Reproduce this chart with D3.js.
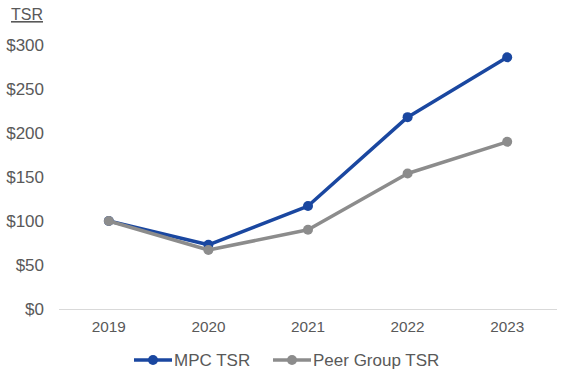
<!DOCTYPE html>
<html><head><meta charset="utf-8">
<script src="https://cdn.jsdelivr.net/npm/d3@7"></script>
<style>body{margin:0;background:#fff;}svg{display:block;font-family:"Liberation Sans",Arial,sans-serif;}</style>
</head><body><svg id="c" width="575" height="383"></svg>
<script>
const years = ["2019","2020","2021","2022","2023"];
const mpc = [100, 73, 117, 218, 286];
const peer = [100, 67, 90, 154, 190];
const yTicks = [0,50,100,150,200,250,300];
const seriesNames = ["MPC TSR","Peer Group TSR"];
const colors = ["#1A47A0","#8C8C8C"];

const svg = d3.select("#c");
const x = d3.scaleBand().domain(years).range([59,557]);
const y = d3.scaleLinear().domain([0,300]).range([309,45]);
const txt = "#595959";

svg.append("line").attr("x1",59).attr("x2",557).attr("y1",y(0)+0.5).attr("y2",y(0)+0.5)
  .attr("stroke","#D9D9D9").attr("stroke-width",1);

svg.selectAll(".yl").data(yTicks).join("text")
  .attr("x",44).attr("y",d=>y(d)).attr("dy","0.35em").attr("text-anchor","end")
  .attr("font-size",17).attr("fill",txt).text(d=>"$"+d);

svg.selectAll(".xl").data(years).join("text")
  .attr("x",d=>x(d)+x.bandwidth()/2).attr("y",327).attr("dy","0.35em").attr("text-anchor","middle")
  .attr("font-size",15.3).attr("fill",txt).text(d=>d);

svg.append("text").attr("x",11).attr("y",20).attr("font-size",16).attr("fill",txt)
  .attr("text-decoration","underline").text("TSR");

const cx = d=>x(d)+x.bandwidth()/2;
const line = d3.line().x((d,i)=>cx(years[i])).y(d=>y(d));
[mpc, peer].forEach((s,k)=>{
  const c = colors[k];
  svg.append("path").attr("d",line(s)).attr("fill","none").attr("stroke",c)
    .attr("stroke-width",3.5).attr("stroke-linejoin","round");
  svg.selectAll(null).data(s).join("circle").attr("cx",(d,i)=>cx(years[i])).attr("cy",d=>y(d))
    .attr("r",5).attr("fill",c);
});

const leg = [{x:134,name:seriesNames[0],c:colors[0]},{x:273,name:seriesNames[1],c:colors[1]}];
leg.forEach(l=>{
  svg.append("line").attr("x1",l.x).attr("x2",l.x+38).attr("y1",360).attr("y2",360)
    .attr("stroke",l.c).attr("stroke-width",3.5);
  svg.append("circle").attr("cx",l.x+19).attr("cy",360).attr("r",5).attr("fill",l.c);
  svg.append("text").attr("x",l.x+40).attr("y",360).attr("dy","0.35em").attr("font-size",17)
    .attr("fill",txt).text(l.name);
});
</script></body></html>
